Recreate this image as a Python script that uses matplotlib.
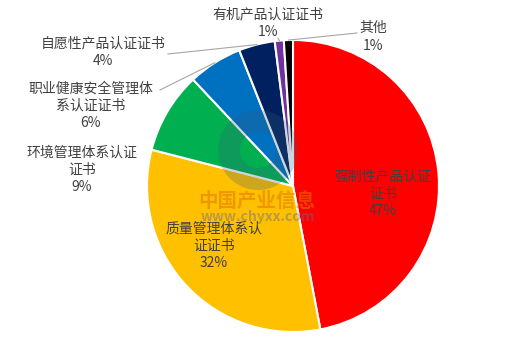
import matplotlib.pyplot as plt
import numpy as np
from matplotlib.patches import Wedge

plt.rcParams['font.family'] = ['Noto Sans CJK SC', 'DejaVu Sans']

# ---- data ----
labels = ["强制性产品认证\n证书", "质量管理体系认\n证证书", "环境管理体系认证\n证书",
          "职业健康安全管理体\n系认证证书", "自愿性产品认证证书", "有机产品认证证书", "其他"]
shares = [47, 32, 9, 6, 4, 1, 1]
colors = ["#FF0000", "#FFC000", "#00B050", "#0070C0", "#002060", "#7030A0", "#000000"]

# pixel layout of the reference (centre and radius of pie)
W, H = 517, 339
CX, CY, R = 293, 186, 146


def px(x, y):
    return (x - CX) / R, (CY - y) / R


# label centres in pixels, and whether a leader line is drawn
label_pos = [(383, 194), (214, 246), (82, 170), (91, 106), (103, 52), (268, 23), (373, 37)]
leader = [False, False, False, True, True, True, True]
leader_from = [None, None, None, (160, 90), (168, 54), (278, 38), (357, 33)]

fig = plt.figure(figsize=(W / 100, H / 100), dpi=100)
ax = fig.add_axes([0, 0, 1, 1])

wedges, _ = ax.pie(shares, colors=colors, startangle=90, counterclock=False,
                   radius=1, wedgeprops=dict(edgecolor="white", linewidth=1.5))

TXT = "#404040"
for w, lab, v, pos, ld, lf in zip(wedges, labels, shares, label_pos, leader, leader_from):
    tx, ty = px(*pos)
    ax.text(tx, ty, f"{lab}\n{v}%", ha="center", va="center", fontsize=10,
            color=TXT, linespacing=1.3)
    if ld:
        mid = np.deg2rad((w.theta1 + w.theta2) / 2)
        ex, ey = np.cos(mid), np.sin(mid)
        sx, sy = px(*lf)
        ax.plot([sx, ex], [sy, ey], color="#A6A6A6", linewidth=0.8)

# watermark
wx, wy = px(258, 150)
ax.add_patch(Wedge((wx, wy), 40 / R, 0, 360, width=22 / R,
                   facecolor="#3a5a7a", alpha=0.25, edgecolor="none"))
mx, my = px(257, 201)
ax.text(mx, my, "中国产业信息", ha="center", va="center", fontsize=14,
        fontweight="bold", color="#E07800", alpha=0.55)
ux, uy = px(258, 217)
ax.text(ux, uy, "www.chyxx.com", ha="center", va="center", fontsize=10,
        fontweight="bold", color="#6a6a8a", alpha=0.45)

ax.set_xlim(-CX / R, (W - CX) / R)
ax.set_ylim(-(H - CY) / R, CY / R)
ax.set_aspect("equal")
ax.axis("off")

fig.savefig("out.png", dpi=100)
